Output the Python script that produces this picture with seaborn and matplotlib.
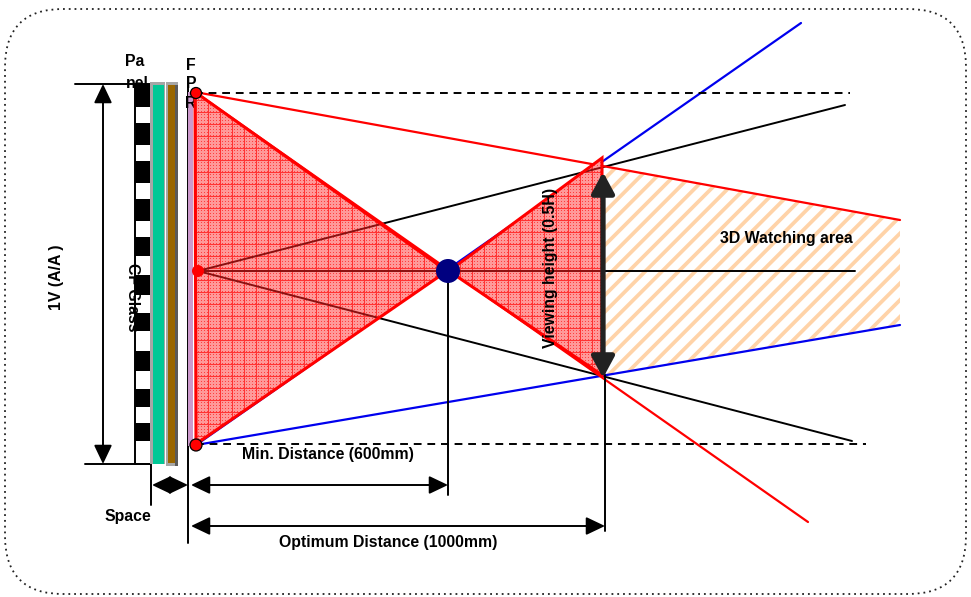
import numpy as np
import matplotlib
matplotlib.use("Agg")
import matplotlib.pyplot as plt
from matplotlib.patches import Polygon, Rectangle, FancyBboxPatch, Circle
import seaborn as sns

sns.set_style("white")
plt.rcParams['font.family'] = ['Liberation Sans', 'DejaVu Sans']
plt.rcParams['hatch.linewidth'] = 2.7

# Diagram geometry (pixels)
red_rays = [((195, 92), (900, 220)), ((195, 92), (808, 522))]
blue_rays = [((196, 445), (801, 23)), ((196, 445), (900, 325))]
black_rays = [((198, 271), (845, 105)), ((198, 271), (852, 441)), ((198, 271), (855, 271))]
dashed_lines = [((195, 93), (850, 93)), ((196, 444), (866, 444))]
guide_lines = [((448, 271), (448, 495)), ((605, 375), (605, 531)), ((188, 85), (188, 543)),
               ((151, 464), (151, 505)), ((75, 84), (150, 84)), ((85, 464), (150, 464)),
               ((135, 84), (135, 464)), ((135, 464), (150, 464))]
dim_arrows = [((103, 84), (103, 464)), ((152, 485), (188, 485)),
              ((191, 485), (448, 485)), ((191, 526), (605, 526))]
tri_left = [(195, 92), (196, 444), (447, 271)]
tri_right = [(449, 271), (602, 158), (602, 375)]
watch_area = [(604, 165), (900, 220), (900, 325), (604, 376)]
panel_black_tops = [84, 123, 161, 199, 237, 275, 313, 351, 389, 423]
panel_black_bottoms = [107, 145, 183, 221, 256, 295, 331, 371, 407, 441]

fig = plt.figure(figsize=(9.71, 5.97), dpi=100)
ax = fig.add_axes([0, 0, 1, 1])
ax.set_axis_off()


def seg(p, q, color, lw, ls='-', z=2):
    before = len(ax.lines)
    sns.lineplot(x=[p[0], q[0]], y=[p[1], q[1]], ax=ax, color=color, lw=lw, linestyle=ls,
                 estimator=None, sort=False, legend=False, zorder=z)
    return ax.lines[before:]


# frame
r = 58
ax.add_patch(FancyBboxPatch((5 + r, 9 + r), 961 - 2 * r, 585 - 2 * r,
                            boxstyle=f"round,pad={r},rounding_size={r}", fc='none', ec='#222222',
                            lw=1.3, ls=(0, (1, 2.2)), zorder=1))

# watching area
ax.add_patch(Polygon(watch_area, closed=True, fc='white', ec='#FFD3A8', hatch='//', lw=0, zorder=1.5))

for a, b in black_rays:
    seg(a, b, 'black', 1.4)
for a, b in blue_rays:
    seg(a, b, '#0000EE', 1.6)
for a, b in red_rays:
    seg(a, b, '#FF0000', 1.6)
for a, b in dashed_lines:
    seg(a, b, 'black', 1.4, ls=(0, (4, 3)))
for a, b in guide_lines:
    seg(a, b, 'black', 1.4)

# panel stack
for t, b in zip(panel_black_tops, panel_black_bottoms):
    ax.add_patch(Rectangle((135, t), 15, b - t, fc='black', ec='none', zorder=3))
ax.add_patch(Rectangle((150, 82), 15, 382, fc='#A6A6A6', ec='none', zorder=3))
ax.add_patch(Rectangle((153, 85), 11, 379, fc='#00C896', ec='none', zorder=3.1))
ax.add_patch(Rectangle((166, 82), 12, 384, fc='#A6A6A6', ec='none', zorder=3))
ax.add_patch(Rectangle((168, 85), 7, 378, fc='#996600', ec='none', zorder=3.1))
ax.add_patch(Rectangle((175, 85), 3, 381, fc='#5A5A5A', ec='none', zorder=3.1))
ax.add_patch(Rectangle((188, 92), 5, 354, fc='#CC99CC', ec='none', zorder=3))

# textured triangles
h, w = 597, 971
tex = np.zeros((h, w, 4))
yy, xx = np.mgrid[0:h, 0:w]
dots = (xx % 3 == 0) & (yy % 3 == 0)
tex[..., 0] = 1
tex[..., 1] = np.where(dots, 0.25, 0.6)
tex[..., 2] = np.where(dots, 0.25, 0.6)
tex[..., 3] = 1.0
grid = (xx % 12 == 4) | (yy % 12 == 4)
tex[grid, 1] = 0.2
tex[grid, 2] = 0.2
for tri in (tri_left, tri_right):
    im = ax.imshow(tex, extent=(0, w, h, 0), aspect='auto', interpolation='nearest', zorder=4)
    pg = Polygon(tri, closed=True, fc='none', ec='#FF0000', lw=2.2, joinstyle='miter', zorder=4.2)
    ax.add_patch(pg)
    im.set_clip_path(pg)
    # rays show through the translucent fill as dark red
    for a, b in black_rays:
        for ln in seg(a, b, '#8A1010', 1.4, z=4.1):
            ln.set_clip_path(pg)

ax.set_xlim(0, w)
ax.set_ylim(h, 0)

# arrows
for a, b in dim_arrows:
    ax.annotate('', xy=a, xytext=b, zorder=5,
                arrowprops=dict(arrowstyle='<|-|>,head_length=1.05,head_width=0.5', color='black',
                                lw=1.4, shrinkA=0, shrinkB=0, mutation_scale=11))
ax.annotate('', xy=(603, 172), xytext=(603, 378), zorder=5,
            arrowprops=dict(arrowstyle='<|-|>,head_length=1.15,head_width=0.62', color='#222222',
                            lw=3.8, shrinkA=0, shrinkB=0, mutation_scale=11))

# markers
for c, rad, fc, ec in [((196, 93), 5.5, '#FF0000', 'black'), ((196, 445), 6, '#FF0000', 'black'),
                       ((198, 271), 6, '#FF0000', 'none'), ((448, 271), 12, '#000080', 'none')]:
    ax.add_patch(Circle(c, rad, fc=fc, ec=ec, lw=0.9, zorder=6))

# texts
kw = dict(fontweight='bold', fontsize=11.4, color='black', ha='center', va='center')
ax.text(135, 62, 'Pa', zorder=7, **kw)
ax.text(137, 84, 'nel', zorder=7, **kw)
ax.text(191, 65, 'F', zorder=7, **kw)
ax.text(191, 84, 'P', zorder=3.5, **kw)
ax.text(191, 103, 'R', zorder=3.5, **kw)
ax.text(133, 297, 'CF Glass', rotation=270, zorder=7.5, **kw)
ax.text(57, 277, '1V (A/A )', rotation=90, zorder=7, **kw)
ax.text(550, 268, 'Viewing height (0.5H)', rotation=90, zorder=7, **kw)
ax.text(786, 239, '3D Watching area', zorder=7, **kw)
ax.text(328, 455, 'Min. Distance (600mm)', zorder=7, **kw)
ax.text(128, 516, 'Space', zorder=7, **kw)
ax.text(388, 542, 'Optimum Distance (1000mm)', zorder=7, **kw)

fig.savefig('out.png', dpi=100)
